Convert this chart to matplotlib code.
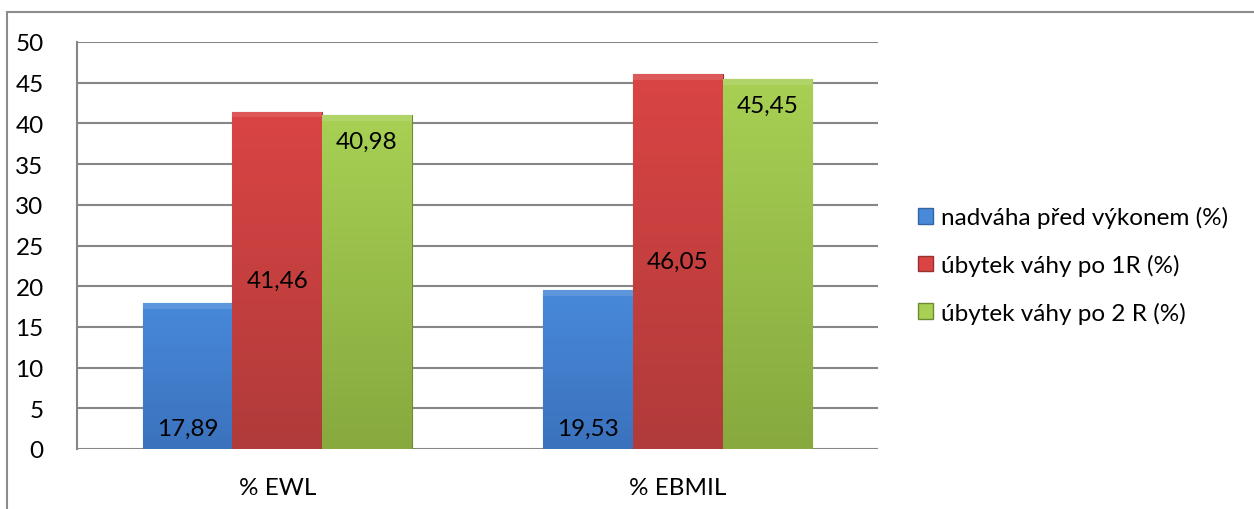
import numpy as np
import matplotlib
matplotlib.use("Agg")
import matplotlib.pyplot as plt
from matplotlib.patches import Rectangle, Patch
from matplotlib.colors import LinearSegmentedColormap

plt.rcParams['font.family'] = ['Lato', 'DejaVu Sans']

categories = ['% EWL', '% EBMIL']
series_names = ['nadváha před výkonem (%)', 'úbytek váhy po 1R (%)', 'úbytek váhy po 2 R (%)']
values = [
    [17.89, 19.53],
    [41.46, 46.05],
    [40.98, 45.45],
]
label_pos = ['base', 'center', 'end']
colors_top = ['#4889da', '#da4444', '#a7d054']
colors_bot = ['#3b72bd', '#b03b3a', '#87a93e']
colors_edge = ['#34659f', '#973232', '#6e8b33']

fig = plt.figure(figsize=(12.54, 5.10), dpi=100)
ax = fig.add_axes([77 / 1254, 60 / 510, (878 - 77) / 1254, (450 - 43) / 510])

# outer chart border (only left/top visible)
fig.patches.append(Rectangle((7 / 1254, -0.1), 1.2, 1 - 13 / 510 + 0.1, transform=fig.transFigure,
                             fill=False, edgecolor='#8c8c8c', linewidth=1.5, zorder=0))

x = np.arange(len(categories))
w = 0.224
grad = np.linspace(1, 0, 256).reshape(-1, 1)

for i, name in enumerate(series_names):
    offs = (i - 1) * w
    bars = ax.bar(x + offs, values[i], w, color=colors_bot[i], edgecolor=colors_edge[i],
                  linewidth=0.8, zorder=3, label=name)
    cmap = LinearSegmentedColormap.from_list('g%d' % i, [colors_bot[i], colors_top[i]])
    for b, v in zip(bars, values[i]):
        x0, y0 = b.get_x(), b.get_y()
        im = ax.imshow(grad, cmap=cmap, aspect='auto', extent=[x0, x0 + w, y0, y0 + v],
                       zorder=3.5, interpolation='bicubic')
        im.set_clip_path(b)
        # subtle bevel highlight on top edge
        ax.add_patch(Rectangle((x0, v - 0.7), w, 0.7, facecolor='white', alpha=0.12,
                               edgecolor='none', zorder=3.6))
        txt = ('%.2f' % v).replace('.', ',')
        if label_pos[i] == 'base':
            ty, va = 1.2, 'bottom'
        elif label_pos[i] == 'center':
            ty, va = v / 2, 'center'
        else:
            ty, va = v - 1.9, 'top'
        ax.text(x0 + w / 2, ty, txt, ha='center', va=va, fontsize=17.5, color='black', zorder=5)

ax.set_xlim(-0.5, 1.5)
ax.set_ylim(0, 50)
ax.set_yticks(range(0, 51, 5))
ax.set_xticks(x)
ax.set_xticklabels(categories)
ax.tick_params(axis='both', length=0, labelsize=17.5)
ax.tick_params(axis='y', pad=24)
ax.tick_params(axis='x', pad=20)
ax.grid(axis='y', color='#868686', linewidth=1.5, zorder=0)
for s in ['top', 'right', 'bottom']:
    ax.spines[s].set_visible(False)
ax.spines['left'].set_color('#868686')
ax.spines['left'].set_linewidth(1.5)

handles = [Patch(facecolor=colors_top[i], edgecolor=colors_edge[i], label=series_names[i])
           for i in range(3)]
fig.legend(handles=handles, loc='center left', bbox_to_anchor=(906 / 1254, 1 - 266 / 510),
           frameon=False, fontsize=17.5, handlelength=0.6, handleheight=0.6,
           handletextpad=0.35, labelspacing=1.05, borderpad=0)

fig.savefig('out.png', dpi=100)
